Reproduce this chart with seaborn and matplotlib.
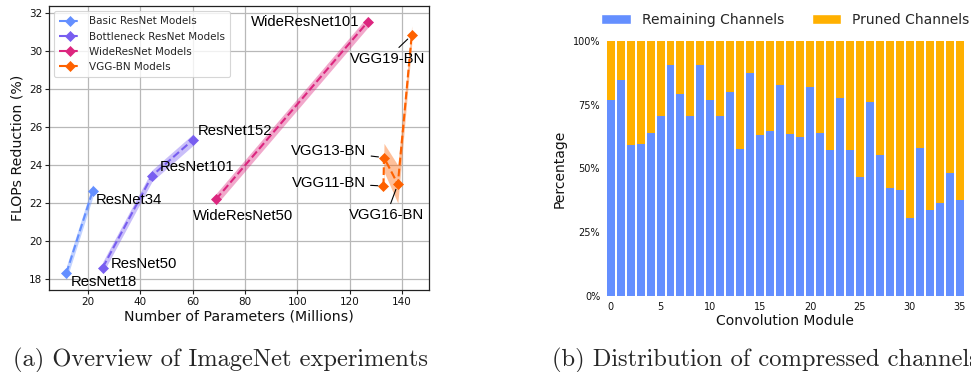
import numpy as np
import pandas as pd
import matplotlib
matplotlib.use("Agg")
import matplotlib.pyplot as plt
import seaborn as sns
from matplotlib.patches import Patch
from matplotlib.ticker import PercentFormatter

# ---------------- data ----------------
basic_names = ["ResNet18", "ResNet34"]
basic_params = [11.7, 21.8]
basic_flops = [18.3, 22.65]
basic_band = [0.35, 0.35]

bottle_names = ["ResNet50", "ResNet101", "ResNet152"]
bottle_params = [25.6, 44.5, 60.2]
bottle_flops = [18.6, 23.45, 25.35]
bottle_band = [0.3, 0.3, 0.3]

wide_names = ["WideResNet50", "WideResNet101"]
wide_params = [68.9, 126.9]
wide_flops = [22.2, 31.55]
wide_band = [0.3, 0.3]

vgg_names = ["VGG11-BN", "VGG13-BN", "VGG16-BN", "VGG19-BN"]
vgg_params = [132.9, 133.1, 138.4, 143.7]
vgg_flops = [22.9, 24.4, 23.0, 30.85]
vgg_band = [0.3, 0.75, 1.0, 0.5]

series_labels = ["Basic ResNet Models", "Bottleneck ResNet Models",
                 "WideResNet Models", "VGG-BN Models"]

modules = list(range(36))
remaining = [76.8, 84.7, 59.2, 59.6, 63.9, 70.5, 90.6, 79.2, 70.5, 90.6,
             76.8, 70.5, 80.0, 57.6, 87.4, 63.1, 64.7, 82.7, 63.5, 62.3,
             81.9, 63.9, 57.2, 77.6, 57.2, 46.6, 76.0, 55.2, 42.3, 41.5,
             30.5, 58.0, 33.6, 36.4, 48.2, 37.6]
pruned = [100 - r for r in remaining]

# ---------------- style ----------------
C_BLUE = "#648FFF"
C_PURPLE = "#785EF0"
C_MAGENTA = "#DC267F"
C_ORANGE = "#FE6100"
C_YELLOW = "#FFB000"

sns.set_theme(style="white")
plt.rcParams["font.family"] = ["DejaVu Sans"]

fig = plt.figure(figsize=(9.71, 3.72), dpi=100)
ax1 = fig.add_axes([0.0505, 0.2204, 0.3913, 0.7635])
ax2 = fig.add_axes([0.6238, 0.2043, 0.3696, 0.6855])

# ---------------- left panel ----------------
groups = [
    (basic_names, basic_params, basic_flops, basic_band, C_BLUE),
    (bottle_names, bottle_params, bottle_flops, bottle_band, C_PURPLE),
    (wide_names, wide_params, wide_flops, wide_band, C_MAGENTA),
    (vgg_names, vgg_params, vgg_flops, vgg_band, C_ORANGE),
]
for (names, xs, ys, band, col), lab in zip(groups, series_labels):
    xs_a = np.array(xs); ys_a = np.array(ys); b = np.array(band)
    ax1.fill_between(xs_a, ys_a - b, ys_a + b, color=col, alpha=0.4,
                     linewidth=0, zorder=2)
    df = pd.DataFrame({"x": xs, "y": ys})
    sns.lineplot(data=df, x="x", y="y", ax=ax1, color=col, marker="D",
                 linestyle="--", linewidth=1.5, markersize=5.5,
                 markeredgecolor=col, markeredgewidth=0.5, label=lab,
                 sort=False, zorder=3)

# label offsets in pixels (dx, dy, ha, leader line)
label_style = {
    "ResNet18": (4, -9, "left", False),
    "ResNet34": (3, -9.5, "left", False),
    "ResNet50": (8, 4, "left", False),
    "ResNet101": (8, 8.5, "left", False),
    "ResNet152": (5, 8.5, "left", False),
    "WideResNet50": (-23, -16.5, "left", False),
    "WideResNet101": (-8, 0, "right", False),
    "VGG11-BN": (-17.5, 3, "right", True),
    "VGG13-BN": (-17.5, 6.5, "right", True),
    "VGG16-BN": (-11.5, -31, "center", True),
    "VGG19-BN": (-24.5, -23.5, "center", True),
}
for names, xs, ys, band, col in groups:
    for n, x, y in zip(names, xs, ys):
        dx, dy, ha, line = label_style[n]
        kw = {}
        if line:
            kw["arrowprops"] = dict(arrowstyle="-", color="black", lw=0.8,
                                    shrinkA=1, shrinkB=4)
        ax1.annotate(n, xy=(x, y), xytext=(dx, dy), textcoords="offset pixels",
                     ha=ha, va="center", fontsize=10.7,
                     family=["Liberation Sans", "DejaVu Sans"], color="black",
                     zorder=5, **kw)

ax1.set_xticks([20, 40, 60, 80, 100, 120, 140])
ax1.set_yticks([18, 20, 22, 24, 26, 28, 30, 32])
ax1.set_xlim(5.1, 150.3)
ax1.set_ylim(17.42, 32.39)
ax1.grid(True, color="#b8b8b8", linewidth=0.9)
ax1.set_axisbelow(True)
for s in ax1.spines.values():
    s.set_visible(True)
    s.set_color("#222222")
    s.set_linewidth(0.9)
ax1.tick_params(axis="both", which="major", labelsize=7.5, length=3,
                width=0.8, color="#222222", labelcolor="#111111",
                bottom=True, left=True, pad=2)
ax1.set_xlabel("Number of Parameters (Millions)", fontsize=10.2, labelpad=2,
               color="#111111")
ax1.set_ylabel("FLOPs Reduction (%)", fontsize=10.2, labelpad=3,
               color="#111111")
leg1 = ax1.legend(loc="upper left", fontsize=7.5, frameon=True,
                  borderpad=0.5, labelspacing=0.5, handlelength=2.0,
                  bbox_to_anchor=(0.0, 1.0))
leg1.get_frame().set_edgecolor("#cccccc")
leg1.get_frame().set_linewidth(0.8)

# ---------------- right panel ----------------
total = [r + p for r, p in zip(remaining, pruned)]
sns.barplot(x=modules, y=total, color=C_YELLOW, saturation=1, width=0.8,
            ax=ax2, linewidth=0)
sns.barplot(x=modules, y=remaining, color=C_BLUE, saturation=1, width=0.8,
            ax=ax2, linewidth=0)
ax2.set_xlim(-0.5, 35.5)
ax2.set_ylim(0, 100)
ax2.set_xticks(list(range(0, 36, 5)))
ax2.set_xticklabels([str(m) for m in range(0, 36, 5)])
ax2.set_yticks([0, 25, 50, 75, 100])
ax2.yaxis.set_major_formatter(PercentFormatter(100, decimals=0))
ax2.tick_params(axis="both", labelsize=7, length=0, pad=4,
                labelcolor="#111111")
sns.despine(ax=ax2, left=True, bottom=True)
ax2.set_xlabel("Convolution Module", fontsize=10, labelpad=2, color="#111111")
ax2.set_ylabel("Percentage", fontsize=10, labelpad=4, color="#111111")
handles = [Patch(facecolor=C_BLUE, label="Remaining Channels"),
           Patch(facecolor=C_YELLOW, label="Pruned Channels")]
ax2.legend(handles=handles, loc="center", bbox_to_anchor=(0.5, 1.082),
           ncol=2, frameon=False, fontsize=10, handlelength=2.15,
           handletextpad=0.75, columnspacing=2.0)

# ---------------- captions ----------------
fig.text(13 / 971, 1 - 360 / 372, "(a) Overview of ImageNet experiments",
         family="cmr10", fontsize=17.6, va="center", ha="left")
fig.text(552 / 971, 1 - 360 / 372, "(b) Distribution of compressed channels",
         family="cmr10", fontsize=17.6, va="center", ha="left")

fig.savefig("out.png", dpi=100)
